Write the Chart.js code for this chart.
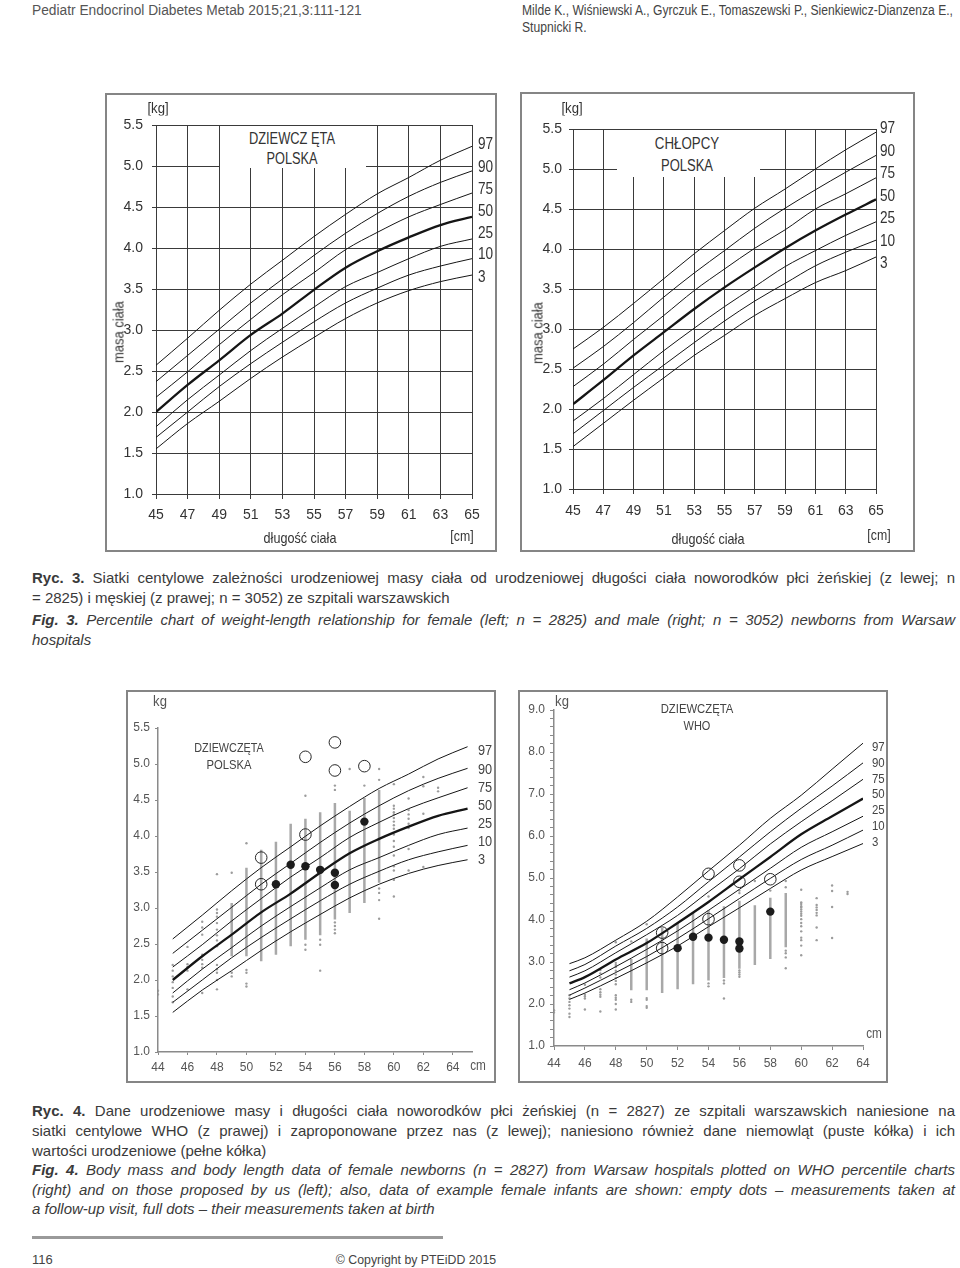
<!DOCTYPE html>
<html>
<head>
<meta charset="utf-8">
<script src="https://cdn.jsdelivr.net/npm/chart.js@4.4.1/dist/chart.umd.min.js"></script>
<style>
  body { margin: 0; background: #fff; }
  #page { position: relative; width: 960px; height: 1268px; overflow: hidden;
          font-family: "Liberation Sans", Arial, sans-serif; color: #333; }
  .t { position: absolute; white-space: nowrap; }
  .c { transform: translate(-50%, -50%); }
  .l { transform: translate(0, -50%); transform-origin: left center; }
  .rot { transform: translate(-50%, -50%) rotate(-90deg); }
  .frame { position: absolute; border: 2px solid #858585; box-sizing: border-box; }
  .box { position: absolute; }
  .white { position: absolute; background: #fff; }
  .cap { position: absolute; left: 32px; width: 923px; font-size: 15px; line-height: 18px; color: #3a3a3a; white-space: nowrap; }
  .just { text-align: justify; text-align-last: justify; }
</style>
</head>
<body>
<div id="page">
  <!-- header -->
  <div class="t l" data-w="330" style="left:32px;top:10px;font-size:14px;color:#555">Pediatr Endocrinol Diabetes Metab 2015;21,3:111-121</div>
  <div class="t l" data-w="431" style="left:522px;top:10px;font-size:14px;color:#444">Milde K., Wiśniewski A., Gyrczuk E., Tomaszewski P., Sienkiewicz-Dianzenza E.,</div>
  <div class="t l" data-w="65" style="left:522px;top:27px;font-size:14px;color:#444">Stupnicki R.</div>

  <!-- top left chart -->
  <div class="frame" style="left:105px;top:93px;width:392px;height:459px"></div>
  <div class="box" style="left:105px;top:93px;width:392px;height:459px"><canvas id="chartA" width="392" height="459"></canvas></div>
  <div class="white" style="left:220px;top:126px;width:146px;height:42px"></div>
  <div class="t c" data-w="86" style="left:292px;top:139px;font-size:16px">DZIEWCZ ĘTA</div>
  <div class="t c" data-w="51" style="left:292px;top:159px;font-size:16px">POLSKA</div>
  <div class="t c" data-w="21" style="left:158px;top:107px;font-size:15px">[kg]</div>
  <div class="t rot" data-w="62" style="left:118px;top:332px;font-size:15px">masa ciała</div>
  <div class="t c" data-w="73" style="left:300px;top:537px;font-size:15px">długość ciała</div>
  <div class="t c" data-w="23" style="left:462px;top:535px;font-size:15px">[cm]</div>
  <div id="labA"></div>

  <!-- top right chart -->
  <div class="frame" style="left:520px;top:92px;width:395px;height:460px"></div>
  <div class="box" style="left:520px;top:92px;width:395px;height:460px"><canvas id="chartB" width="395" height="460"></canvas></div>
  <div class="white" style="left:617px;top:130px;width:143px;height:47px"></div>
  <div class="t c" data-w="64" style="left:687px;top:144px;font-size:16px">CHŁOPCY</div>
  <div class="t c" data-w="52" style="left:687px;top:166px;font-size:16px">POLSKA</div>
  <div class="t c" data-w="21" style="left:572px;top:107px;font-size:15px">[kg]</div>
  <div class="t rot" data-w="62" style="left:537px;top:333px;font-size:15px">masa ciała</div>
  <div class="t c" data-w="73" style="left:708px;top:538px;font-size:15px">długość ciała</div>
  <div class="t c" data-w="23" style="left:879px;top:534px;font-size:15px">[cm]</div>
  <div id="labB"></div>

  <!-- caption Ryc. 3 -->
  <div class="cap just" style="top:569px"><b>Ryc. 3.</b> Siatki centylowe zależności urodzeniowej masy ciała od urodzeniowej długości ciała noworodków płci żeńskiej (z lewej; n</div>
  <div class="cap" style="top:589px">= 2825) i męskiej (z prawej; n = 3052) ze szpitali warszawskich</div>
  <div class="cap just" style="top:611px"><i><b>Fig. 3.</b> Percentile chart of weight-length relationship for female (left; n = 2825) and male (right; n = 3052) newborns from Warsaw</i></div>
  <div class="cap" style="top:631px"><i>hospitals</i></div>

  <!-- bottom left chart -->
  <div class="frame" style="left:126px;top:690px;width:370px;height:393px"></div>
  <div class="box" style="left:126px;top:690px;width:370px;height:393px"><canvas id="chartC" width="370" height="393"></canvas></div>
  <div class="t c" data-w="14" style="left:160px;top:701px;font-size:14px;color:#555">kg</div>
  <div class="t c" data-w="70" style="left:229px;top:747px;font-size:13px;color:#444">DZIEWCZĘTA</div>
  <div class="t c" data-w="45" style="left:229px;top:764px;font-size:13px;color:#444">POLSKA</div>
  <div class="t c" data-w="16" style="left:478px;top:1065px;font-size:14px;color:#555">cm</div>
  <div id="labC"></div>

  <!-- bottom right chart -->
  <div class="frame" style="left:518px;top:690px;width:370px;height:393px"></div>
  <div class="box" style="left:518px;top:690px;width:370px;height:393px"><canvas id="chartD" width="370" height="393"></canvas></div>
  <div class="t c" data-w="14" style="left:562px;top:701px;font-size:14px;color:#555">kg</div>
  <div class="t c" data-w="73" style="left:697px;top:708px;font-size:13px;color:#444">DZIEWCZĘTA</div>
  <div class="t c" data-w="27" style="left:697px;top:725px;font-size:13px;color:#444">WHO</div>
  <div class="t c" data-w="16" style="left:874px;top:1033px;font-size:14px;color:#555">cm</div>
  <div id="labD"></div>

  <!-- caption Ryc. 4 -->
  <div class="cap just" style="top:1102px"><b>Ryc. 4.</b> Dane urodzeniowe masy i długości ciała noworodków płci żeńskiej (n = 2827) ze szpitali warszawskich naniesione na</div>
  <div class="cap just" style="top:1122px">siatki centylowe WHO (z prawej) i zaproponowane przez nas (z lewej); naniesiono również dane niemowląt (puste kółka) i ich</div>
  <div class="cap" style="top:1142px">wartości urodzeniowe (pełne kółka)</div>
  <div class="cap just" style="top:1161px"><i><b>Fig. 4.</b> Body mass and body length data of female newborns (n = 2827) from Warsaw hospitals plotted on WHO percentile charts</i></div>
  <div class="cap just" style="top:1181px"><i>(right) and on those proposed by us (left); also, data of example female infants are shown: empty dots – measurements taken at</i></div>
  <div class="cap" style="top:1200px"><i>a follow-up visit, full dots – their measurements taken at birth</i></div>

  <!-- footer -->
  <div style="position:absolute;left:32px;top:1236px;width:411px;height:3px;background:#9a9a9a"></div>
  <div class="t l" style="left:32px;top:1259px;font-size:13px;color:#444">116</div>
  <div class="t c" data-w="160" style="left:416px;top:1259px;font-size:13px;color:#444">© Copyright by PTEiDD 2015</div>
</div>

<script>
// percentile names
const pctNames = ['97', '90', '75', '50', '25', '10', '3'];

// polish girls grid (top left + bottom left)
const lengthsPL = [45, 47, 49, 51, 53, 55, 57, 59, 61, 63, 65];
const girlsP97 = [2.57, 2.90, 3.24, 3.56, 3.85, 4.14, 4.41, 4.66, 4.86, 5.07, 5.24];
const girlsP90 = [2.37, 2.69, 3.01, 3.33, 3.62, 3.91, 4.18, 4.42, 4.63, 4.80, 4.94];
const girlsP75 = [2.18, 2.49, 2.82, 3.13, 3.43, 3.70, 3.98, 4.19, 4.38, 4.53, 4.67];
const girlsP50 = [2.00, 2.33, 2.63, 2.94, 3.20, 3.49, 3.76, 3.96, 4.13, 4.28, 4.38];
const girlsP25 = [1.82, 2.15, 2.45, 2.75, 3.02, 3.28, 3.53, 3.70, 3.87, 4.02, 4.11];
const girlsP10 = [1.69, 2.00, 2.31, 2.59, 2.85, 3.10, 3.33, 3.51, 3.67, 3.78, 3.87];
const girlsP3  = [1.55, 1.86, 2.13, 2.41, 2.67, 2.91, 3.14, 3.33, 3.48, 3.59, 3.67];

// polish boys grid (top right)
const boysP97 = [2.75, 3.02, 3.32, 3.63, 3.94, 4.23, 4.51, 4.75, 5.00, 5.24, 5.46];
const boysP90 = [2.51, 2.78, 3.08, 3.40, 3.70, 3.98, 4.26, 4.51, 4.74, 4.96, 5.17];
const boysP75 = [2.28, 2.56, 2.87, 3.17, 3.48, 3.75, 4.01, 4.24, 4.50, 4.69, 4.89];
const boysP50 = [2.06, 2.36, 2.67, 2.96, 3.25, 3.52, 3.77, 4.01, 4.23, 4.43, 4.62];
const boysP25 = [1.85, 2.13, 2.43, 2.73, 3.01, 3.28, 3.53, 3.78, 3.98, 4.17, 4.34];
const boysP10 = [1.69, 1.98, 2.27, 2.55, 2.83, 3.10, 3.35, 3.57, 3.79, 3.96, 4.11];
const boysP3  = [1.53, 1.82, 2.11, 2.39, 2.67, 2.92, 3.17, 3.38, 3.58, 3.73, 3.90];

// WHO girls grid (bottom right)
const lengthsWHO = [45, 46, 48, 50, 52, 54, 56, 58, 60, 62, 64];
const whoP97 = [2.96, 3.10, 3.52, 3.97, 4.55, 5.17, 5.78, 6.42, 6.97, 7.59, 8.21];
const whoP90 = [2.79, 2.94, 3.38, 3.80, 4.31, 4.91, 5.50, 6.10, 6.66, 7.19, 7.74];
const whoP75 = [2.64, 2.79, 3.22, 3.65, 4.11, 4.67, 5.22, 5.81, 6.34, 6.84, 7.35];
const whoP50 = [2.49, 2.64, 3.06, 3.45, 3.93, 4.43, 4.97, 5.50, 6.04, 6.47, 6.89];
const whoP25 = [2.34, 2.50, 2.89, 3.30, 3.74, 4.23, 4.73, 5.23, 5.73, 6.10, 6.47];
const whoP10 = [2.21, 2.38, 2.75, 3.13, 3.56, 4.03, 4.51, 4.99, 5.44, 5.78, 6.14];
const whoP3  = [2.11, 2.26, 2.61, 2.98, 3.38, 3.84, 4.29, 4.75, 5.19, 5.51, 5.82];

// newborn data, dense columns (length, lowest, highest weight)
const denseLengths = [49, 50, 51, 52, 53, 54, 55, 56, 57, 58, 59];
const denseLow  = [2.33, 2.33, 2.26, 2.35, 2.47, 2.56, 2.62, 2.84, 2.93, 3.07, 3.35];
const denseHigh = [3.07, 3.56, 3.81, 3.92, 4.17, 4.24, 4.33, 4.46, 4.35, 4.53, 4.64];

// newborn data, single dots
const dotLengths = [44, 44,
  45, 45, 45, 45, 45, 45, 45,
  46, 46, 46, 46, 46,
  47, 47, 47, 47, 47, 47, 47, 47,
  48, 48, 48, 48, 48, 48, 48, 48, 48, 48, 48, 48, 48, 48,
  49, 49, 49,
  50, 50, 50, 50, 50,
  54, 54, 54,
  55, 55, 55,
  56, 56, 56, 56, 56, 56,
  57, 58,
  59, 59, 59, 59, 59, 59,
  60, 60, 60, 60, 60, 60, 60, 60, 60, 60, 60, 60, 60, 60, 60, 60, 60,
  61, 61, 61, 61, 61, 61, 61, 61,
  62, 62, 62, 62,
  63, 63];
const dotWeights = [1.85, 1.80,
  2.21, 2.13, 2.05, 1.97, 1.89, 1.77, 1.69,
  2.46, 2.22, 2.18, 2.13, 1.87,
  2.81, 2.73, 2.63, 2.35, 2.28, 2.22, 2.17, 1.82,
  3.47, 2.98, 2.93, 2.88, 2.79, 2.70, 2.62, 2.55, 2.47, 2.21, 2.15, 2.10, 2.00, 1.87,
  3.49, 2.10, 2.05,
  3.90, 2.14, 2.10, 1.95, 1.91,
  4.56, 2.49, 2.42,
  2.56, 2.49, 2.13,
  4.70, 4.64, 2.80, 2.75, 2.70, 2.65,
  4.93, 4.70,
  4.93, 4.78, 3.27, 3.21, 3.11, 2.85,
  4.72, 4.42, 4.38, 4.33, 4.30, 4.25, 4.20, 4.15, 4.10, 4.02, 3.93, 3.85, 3.73, 3.58, 3.52, 3.39, 3.16,
  4.52, 4.36, 4.30, 4.24, 4.17, 4.11, 3.82, 3.52,
  4.82, 4.69, 4.31, 3.57,
  4.67, 4.62];

// example infants: empty = follow-up visit, full = at birth
const openLengths = [51, 51, 54, 54, 56, 56, 58];
const openWeights = [3.70, 3.33, 5.10, 4.02, 5.30, 4.91, 4.97];
const fullLengths = [52, 53, 54, 55, 56, 56, 58];
const fullWeights = [3.33, 3.60, 3.58, 3.53, 3.49, 3.32, 4.20];

function pts(xs, ys) {
  return xs.map((x, i) => ({ x: x, y: ys[i] }));
}

function curveSets(xs, series) {
  return series.map((ys, i) => ({
    data: pts(xs, ys),
    showLine: true,
    borderColor: '#151515',
    borderWidth: i === 3 ? 2.3 : 1,
    pointRadius: 0,
    cubicInterpolationMode: 'monotone'
  }));
}

function newbornSets() {
  const columns = [];
  denseLengths.forEach((x, i) => {
    columns.push({ x: x, y: denseLow[i] }, { x: x, y: denseHigh[i] }, { x: x, y: null });
  });
  return {
    front: [
      { data: pts(fullLengths, fullWeights), pointRadius: 4.2, backgroundColor: '#1c1c1c', borderColor: '#1c1c1c', borderWidth: 0 },
      { data: pts(openLengths, openWeights), pointRadius: 5.8, backgroundColor: 'rgba(0,0,0,0)', borderColor: '#262626', borderWidth: 1 }
    ],
    back: [
      { data: columns, showLine: true, spanGaps: false, borderColor: '#a8a8a8', borderWidth: 2.5, pointRadius: 0 },
      { data: pts(dotLengths, dotWeights), pointRadius: 1.2, backgroundColor: '#9c9c9c', borderWidth: 0 }
    ]
  };
}

function makeChart(id, o) {
  const canvas = document.getElementById(id);
  const W = canvas.width, H = canvas.height;
  const a = o.area;
  return new Chart(canvas.getContext('2d'), {
    type: 'scatter',
    data: { datasets: o.datasets },
    options: {
      responsive: false,
      animation: false,
      events: [],
      layout: { padding: { left: 0, top: a.t, right: W - a.r, bottom: 0 } },
      plugins: { legend: { display: false }, tooltip: { enabled: false } },
      scales: {
        x: {
          type: 'linear', min: o.xMin, max: o.xMax,
          afterFit: s => { s.height = H - a.b; },
          border: { color: o.axisColor, width: o.axisWidth },
          grid: { drawOnChartArea: o.grid, color: o.gridColor, tickColor: o.axisColor, tickLength: o.xTick },
          ticks: { stepSize: 2, includeBounds: false, autoSkip: false, maxRotation: 0,
                   padding: o.xPad, color: o.textColor, font: o.font }
        },
        y: {
          type: 'linear', min: o.yMin, max: o.yMax,
          afterFit: s => { s.width = a.l; },
          border: { color: o.axisColor, width: o.axisWidth },
          grid: { drawOnChartArea: o.grid, color: o.gridColor, tickColor: o.axisColor, tickLength: o.yTick },
          ticks: { stepSize: o.yStep, autoSkip: false, padding: o.yPad, color: o.textColor, font: o.font,
                   callback: v => Math.abs(v - Math.round(v / o.yLabelEvery) * o.yLabelEvery) < 1e-6 ? v.toFixed(1) : '' }
        }
      }
    }
  });
}

function percentLabels(id, left, tops, size, color, k) {
  const host = document.getElementById(id);
  pctNames.forEach((p, i) => {
    const d = document.createElement('div');
    d.className = 't l';
    d.style.left = left + 'px';
    d.style.top = tops[i] + 'px';
    d.style.fontSize = size + 'px';
    d.style.color = color;
    d.style.transform = 'translate(0,-50%) scaleX(' + k + ')';
    d.textContent = p;
    host.appendChild(d);
  });
}

const bigFont = { family: '"Liberation Sans", Arial, sans-serif', size: 14 };
const smallFont = { family: '"Liberation Sans", Arial, sans-serif', size: 12 };

// top left: girls, Polish grid
makeChart('chartA', {
  area: { l: 51, t: 32, r: 367, b: 401 },
  datasets: curveSets(lengthsPL, [girlsP97, girlsP90, girlsP75, girlsP50, girlsP25, girlsP10, girlsP3]),
  xMin: 45, xMax: 65, yMin: 1, yMax: 5.5, yStep: 0.5, yLabelEvery: 0.5,
  grid: true, gridColor: '#3a3a3a', axisColor: '#3a3a3a', axisWidth: 1,
  xTick: 5, yTick: 4, xPad: 8, yPad: 9, textColor: '#333', font: bigFont
});
percentLabels('labA', 478, [144, 167, 189, 211, 233, 254, 277], 16, '#333', 0.85);

// top right: boys, Polish grid
makeChart('chartB', {
  area: { l: 53, t: 37, r: 356, b: 397 },
  datasets: curveSets(lengthsPL, [boysP97, boysP90, boysP75, boysP50, boysP25, boysP10, boysP3]),
  xMin: 45, xMax: 65, yMin: 1, yMax: 5.5, yStep: 0.5, yLabelEvery: 0.5,
  grid: true, gridColor: '#3a3a3a', axisColor: '#3a3a3a', axisWidth: 1,
  xTick: 5, yTick: 4, xPad: 9, yPad: 7, textColor: '#333', font: bigFont
});
percentLabels('labB', 880, [128, 151, 173, 196, 218, 241, 263], 16, '#333', 0.85);

// bottom left: newborns on Polish grid
const nbC = newbornSets();
makeChart('chartC', {
  area: { l: 32, t: 38, r: 346, b: 362 },
  datasets: nbC.front.concat(curveSets(lengthsPL, [girlsP97, girlsP90, girlsP75, girlsP50, girlsP25, girlsP10, girlsP3]), nbC.back),
  xMin: 44, xMax: 65.3, yMin: 1, yMax: 5.5, yStep: 0.5, yLabelEvery: 0.5,
  grid: false, gridColor: '#888', axisColor: '#8a8a8a', axisWidth: 1.5,
  xTick: 3, yTick: 3, xPad: 5, yPad: 5, textColor: '#555', font: smallFont
});
percentLabels('labC', 478, [749, 768, 786, 804, 822, 840, 858], 15, '#444', 0.85);

// bottom right: newborns on WHO grid
const nbD = newbornSets();
makeChart('chartD', {
  area: { l: 36, t: 20, r: 345, b: 356 },
  datasets: nbD.front.concat(curveSets(lengthsWHO, [whoP97, whoP90, whoP75, whoP50, whoP25, whoP10, whoP3]), nbD.back),
  xMin: 44, xMax: 64, yMin: 1, yMax: 9, yStep: 0.2, yLabelEvery: 1,
  grid: false, gridColor: '#888', axisColor: '#8a8a8a', axisWidth: 1.5,
  xTick: 4, yTick: 4, xPad: 6, yPad: 5, textColor: '#555', font: smallFont
});
percentLabels('labD', 872, [746, 762, 778, 793, 809, 825, 841], 13, '#444', 0.88);

// squeeze html text to the widths measured on the page
function fitTexts() {
  document.querySelectorAll('[data-w]').forEach(el => {
    const k = Number(el.dataset.w) / el.offsetWidth;
    if (el.classList.contains('rot')) el.style.transform = 'translate(-50%,-50%) rotate(-90deg) scaleX(' + k + ')';
    else if (el.classList.contains('c')) el.style.transform = 'translate(-50%,-50%) scaleX(' + k + ')';
    else el.style.transform = 'translate(0,-50%) scaleX(' + k + ')';
  });
}
fitTexts();
</script>
</body>
</html>
